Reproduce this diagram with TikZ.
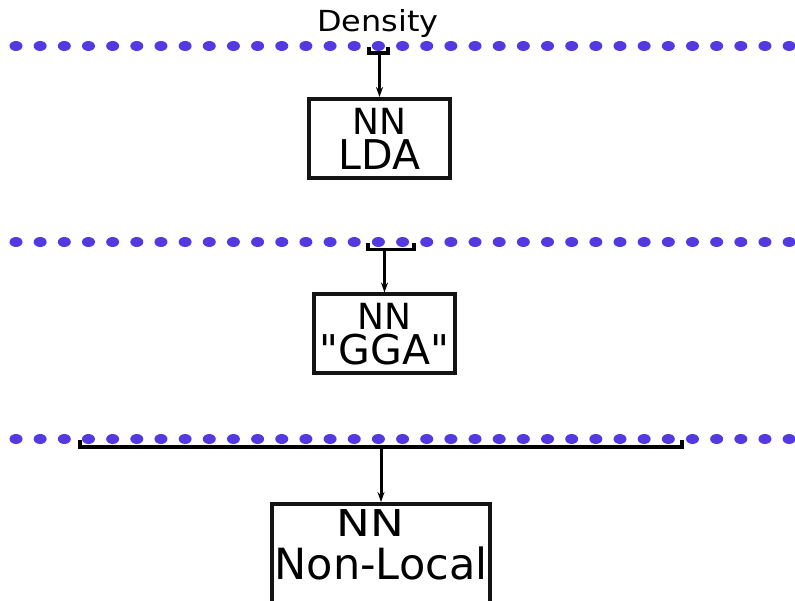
\documentclass[tikz,border=0pt]{standalone}
\usepackage{graphicx}
\usepackage{fontspec}
\setmainfont{DejaVu Sans}[Ligatures=TeXOff]
\usetikzlibrary{arrows.meta, positioning, calc}

\definecolor{dotblue}{RGB}{82,58,224}
\definecolor{boxline}{RGB}{20,20,20}

\begin{document}
\begin{tikzpicture}[
    x=1pt, y=-1pt,
    nnbox/.style={draw=boxline, line width=4pt, minimum width=141pt, minimum height=79pt, inner sep=0pt, align=center, fill=white, font=\fontsize{41}{35}\selectfont},
    arrow/.style={-{Stealth[length=10pt, width=7pt]}, line width=3pt},
    bracket/.style={line width=3.5pt}
]
\useasboundingbox (0,0) rectangle (795,601);

% rows of dots
\foreach \yrow in {46,242,439}
  \foreach \i in {0,...,32}
    \fill[dotblue] (16+24.16*\i, \yrow) ellipse [x radius=6.5pt, y radius=5pt];

\node[font=\fontsize{29}{29}\selectfont, anchor=base] (density) at (378,32) {\scalebox{1.1}[1]{Density}};

\node[nnbox] (lda) at (379.5,138.5) {{\fontsize{36}{35}\selectfont NN}\\LDA};
\node[nnbox] (gga) at (384.5,334) {{\fontsize{36}{35}\selectfont NN}\\"GGA"};
\node[nnbox, minimum width=218pt, minimum height=0pt, inner ysep=6pt, text depth=30pt, anchor=north, font=\fontsize{43}{43}\selectfont] (nonlocal) at (381,502)
  {{\fontsize{37}{43}\selectfont\scalebox{1.22}[1]{NN}\hspace*{22pt}}\\Non-Local};

% brackets picking points from each row
\draw[bracket] (369,47) -- (369,53) -- (388,53) -- (388,47);
\coordinate (in1) at (379.5,53);
\draw[bracket] (368,243) -- (368,249.5) -- (414,249.5) -- (414,243);
\coordinate (in2) at (384.5,249.5);
\draw[bracket] (80,440) -- (80,447) -- (682,447) -- (682,440);
\coordinate (in3) at (381,447);

\draw[arrow] (in1) -- (lda);
\draw[arrow] (in2) -- (gga);
\draw[arrow] (in3) -- (nonlocal);
\end{tikzpicture}
\end{document}
